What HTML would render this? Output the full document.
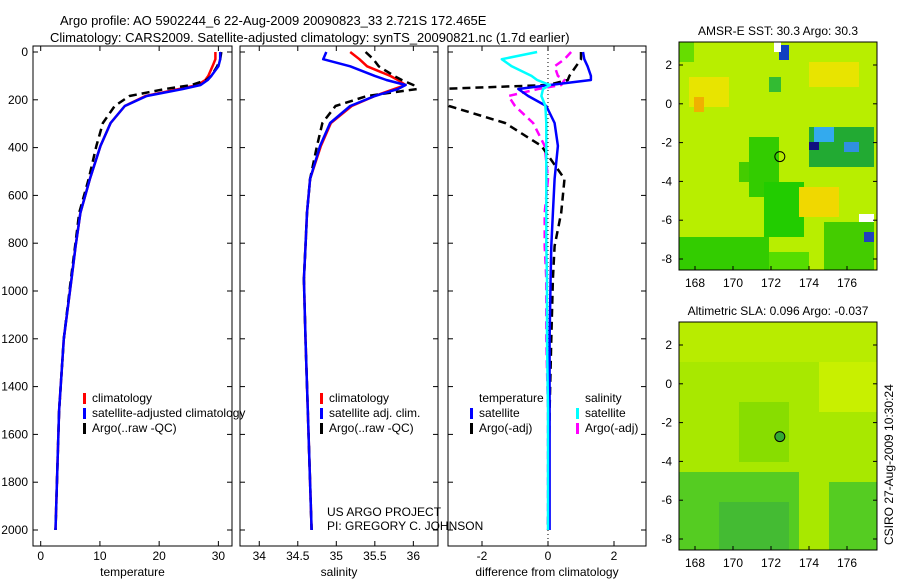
<!DOCTYPE html>
<html><head><meta charset="utf-8"><style>
body{margin:0;background:#fff}
svg{display:block;font-family:"Liberation Sans",sans-serif}
text{font-size:12px;fill:#000}
</style></head><body>
<svg id="c" width="900" height="580" viewBox="0 0 900 580" xmlns="http://www.w3.org/2000/svg">
<text x="60" y="25" style="font-size:13px">Argo profile: AO 5902244_6 22-Aug-2009 20090823_33 2.721S 172.465E</text>
<text x="50" y="42" style="font-size:13px">Climatology: CARS2009. Satellite-adjusted climatology: synTS_20090821.nc (1.7d earlier)</text>
<g id="g"></g>
<text transform="translate(893,545) rotate(-90)">CSIRO 27-Aug-2009 10:30:24</text>
<text x="327" y="516">US ARGO PROJECT</text>
<text x="327" y="530">PI: GREGORY C. JOHNSON</text>
</svg>
<script>
const depths=[0,30,60,100,117,138,155,184,226,297,393,531,673,812,950,1200,1500,2000];
const tClim=[29.5,29.5,29.0,28.3,27.8,26.5,23.4,17.7,14.2,11.8,10.1,8.3,6.7,5.9,5.2,3.9,3.1,2.5];
const tSat=[30.3,30.3,30.0,28.8,28.2,27.0,24.0,17.9,14.2,11.8,10.1,8.3,6.7,5.9,5.2,3.9,3.1,2.5];
const tArgo=[30.5,30.3,29.8,28.8,28.0,25.5,21.0,15.0,12.5,10.5,9.4,8.1,6.5,5.8,5.1,3.9,3.1,2.5];
const sClim=[35.18,35.3,35.4,35.7,35.8,35.9,35.75,35.5,35.2,34.93,34.8,34.66,34.62,34.6,34.58,34.6,34.63,34.68];
const sSat=[34.87,34.83,35.18,35.5,35.65,35.9,35.8,35.5,35.18,34.92,34.79,34.66,34.62,34.6,34.58,34.6,34.63,34.68];
const sArgo=[35.38,35.48,35.55,35.75,35.85,36.0,36.05,35.4,34.99,34.82,34.75,34.66,34.62,34.6,34.58,34.6,34.63,34.68];
const dTsat=[1.06,1.1,1.2,1.3,1.3,0.06,-0.9,-0.6,-0.05,0.2,0.3,0.2,0.15,0.1,0.08,0.05,0.05,0.05];
const dTargo=[1.0,1.0,0.85,0.65,0.6,0.0,-3.3,-3.3,-3.0,-1.3,-0.2,0.5,0.4,0.2,0.15,0.1,0.05,0.0];
const dSsat=[-0.33,-1.4,-1.1,-0.5,-0.33,0.06,-0.15,-0.2,-0.08,-0.05,-0.05,-0.05,-0.05,-0.05,-0.03,-0.03,0,0];
const dSargo=[0.7,0.5,0.2,0.3,0.5,0.4,-0.3,-1.2,-1.0,-0.45,-0.1,0,-0.1,-0.1,-0.05,-0.05,0,0];
const depthTicks=[0,200,400,600,800,1000,1200,1400,1600,1800,2000];
const tTicks=[0,10,20,30], sTicks=[34,34.5,35,35.5,36], dTicks=[-2,0,2];
const latTicks=[2,0,-2,-4,-6,-8], lonTicks=[168,170,172,174,176];

const NS='http://www.w3.org/2000/svg', G=document.getElementById('g');
function mk(t,a,p){const e=document.createElementNS(NS,t);for(const k in a)e.setAttribute(k,a[k]);(p||G).appendChild(e);return e;}
const yD=d=>52+d*0.239;
function panel(name,x0,x1,xmin,xmax,ticks,label,showY){
  const sx=v=>x0+(v-xmin)/(xmax-xmin)*(x1-x0);
  const r=mk('rect',{x:x0,y:46,width:x1-x0,height:500,fill:'none',stroke:'#000'});
  
  
  ticks.forEach(v=>{const x=sx(v);mk('line',{x1:x,x2:x,y1:546,y2:541,stroke:'#000'});mk('line',{x1:x,x2:x,y1:46,y2:51,stroke:'#000'});
    const t=mk('text',{x:x,y:560,'text-anchor':'middle'});t.textContent=v;
    
    });
  depthTicks.forEach(d=>{const y=yD(d);mk('line',{x1:x0,x2:x0+5,y1:y,y2:y,stroke:'#000'});mk('line',{x1:x1,x2:x1-5,y1:y,y2:y,stroke:'#000'});
    if(showY){const t=mk('text',{x:x0-5,y:y+4,'text-anchor':'end'});t.textContent=d;
    
    }});
  const l=mk('text',{x:(x0+x1)/2,y:576,'text-anchor':'middle'});l.textContent=label;
  
  
  return sx;
}
function line(sx,vals,col,dash,w,name,parent){
  const p=vals.map((v,i)=>(i?'L':'M')+sx(v).toFixed(1)+','+yD(depths[i]).toFixed(1)).join('');
  const e=mk('path',{d:p,fill:'none',stroke:col,'stroke-width':w||2,'stroke-dasharray':dash||'none','stroke-linejoin':'round'},parent);
  
  
}
const clip=mk('clipPath',{id:'cp'});mk('rect',{x:448,y:46,width:198,height:500},clip);
const sT=panel('temperature',33,232,-1.3,32.3,tTicks,'temperature',true);
line(sT,tClim,'#f00',null,2.5,'temp-climatology-line');
line(sT,tArgo,'#000','8,5',2.5,'temp-argo-line');
line(sT,tSat,'#00f',null,2.5,'temp-satellite-line');
const sS=panel('salinity',240,438,33.75,36.32,sTicks,'salinity',false);
line(sS,sClim,'#f00',null,2.5,'sal-climatology-line');
line(sS,sArgo,'#000','8,5',2.5,'sal-argo-line');
line(sS,sSat,'#00f',null,2.5,'sal-satellite-line');
const sDf=panel('difference',448,646,-3.03,2.97,dTicks,'difference from climatology',false);
mk('line',{x1:sDf(0),x2:sDf(0),y1:46,y2:546,stroke:'#000','stroke-dasharray':'1,3'});
const dg=mk('g',{'clip-path':'url(#cp)'});
line(sDf,dSargo,'#f0f','8,5',2.5,'dsal-argo-line',dg);
line(sDf,dTargo,'#000','8,5',2.5,'dtemp-argo-line',dg);
line(sDf,dTsat,'#00f',null,2.5,'dtemp-satellite-line',dg);
line(sDf,dSsat,'#0ff',null,2.5,'dsal-satellite-line',dg);
function legend(x,y,items){items.forEach((it,i)=>{if(it[0])mk('rect',{x:x,y:y+i*15-9,width:3,height:11,fill:it[0]});
  const t=mk('text',{x:x+9,y:y+i*15});t.textContent=it[1];
  
  });}
legend(83,402,[['#f00','climatology'],['#00f','satellite-adjusted climatology'],['#000','Argo(..raw -QC)']]);
legend(320,402,[['#f00','climatology'],['#00f','satellite adj. clim.'],['#000','Argo(..raw -QC)']]);
legend(470,402,[[null,'temperature'],['#00f','satellite'],['#000','Argo(-adj)']]);
legend(576,402,[[null,'salinity'],['#0ff','satellite'],['#f0f','Argo(-adj)']]);
function map(name,top,title,base,patches,mk2){
  const x0=679,x1=877,y0=top,y1=top+228;
  const t=mk('text',{x:(x0+x1)/2,y:top-7,'text-anchor':'middle'});t.textContent=title;
  
  
  const bg=mk('rect',{x:x0,y:y0,width:x1-x0,height:y1-y0,fill:base});
  
  
  patches.forEach(p=>mk('rect',{x:x0+p[0],y:y0+p[1],width:p[2],height:p[3],fill:p[4]}));
  mk('rect',{x:x0,y:y0,width:x1-x0,height:y1-y0,fill:'none',stroke:'#000'});
  const lx=v=>695+(v-168)*19, ly=v=>y0+23-(v-2)*19.4;
  lonTicks.forEach(v=>{const x=lx(v);mk('line',{x1:x,x2:x,y1:y1,y2:y1-4,stroke:'#000'});const tt=mk('text',{x:x,y:y1+17,'text-anchor':'middle'});tt.textContent=v;
    
    });
  latTicks.forEach(v=>{const y=ly(v);mk('line',{x1:x0,x2:x0+4,y1:y,y2:y,stroke:'#000'});mk('line',{x1:x1,x2:x1-4,y1:y,y2:y,stroke:'#000'});const tt=mk('text',{x:x0-7,y:y+4,'text-anchor':'end'});tt.textContent=v;
    
    });
  const c=mk('circle',{cx:lx(172.465),cy:ly(-2.721),r:5,fill:mk2,stroke:'#000'});
  
  
}
map('sst-map',42,'AMSR-E SST: 30.3  Argo: 30.3','#b8ee00',[
 [0,0,15,20,'#66dd00'],[10,35,40,30,'#e8e400'],[15,55,10,15,'#f0b000'],[130,20,50,25,'#e8e400'],
 [60,120,20,20,'#44cc00'],[70,95,30,60,'#33cc00'],[85,140,40,55,'#22cc00'],
 [130,85,65,40,'#22aa33'],[135,85,20,15,'#33aaee'],[130,100,10,8,'#101080'],[165,100,15,10,'#3090e0'],
 [120,145,40,30,'#f0d800'],[90,35,12,15,'#33bb33'],
 [0,195,90,33,'#33cc00'],[90,210,40,18,'#55dd00'],[145,180,50,48,'#44cc00'],
 [100,3,10,15,'#1040c0'],[95,0,7,10,'#fff'],[185,190,10,10,'#2040c0'],[180,172,15,8,'#fff']],'none');
map('sla-map',322,'Altimetric SLA: 0.096  Argo: -0.037','#a8e800',[
 [0,0,198,40,'#b8ec00'],[140,40,58,50,'#c8f000'],[0,150,120,78,'#55cc22'],[40,180,70,48,'#44bb33'],[150,160,48,68,'#55cc22'],
 [60,80,50,60,'#88dd00']],'#33aa33');
</script>
</body></html>
